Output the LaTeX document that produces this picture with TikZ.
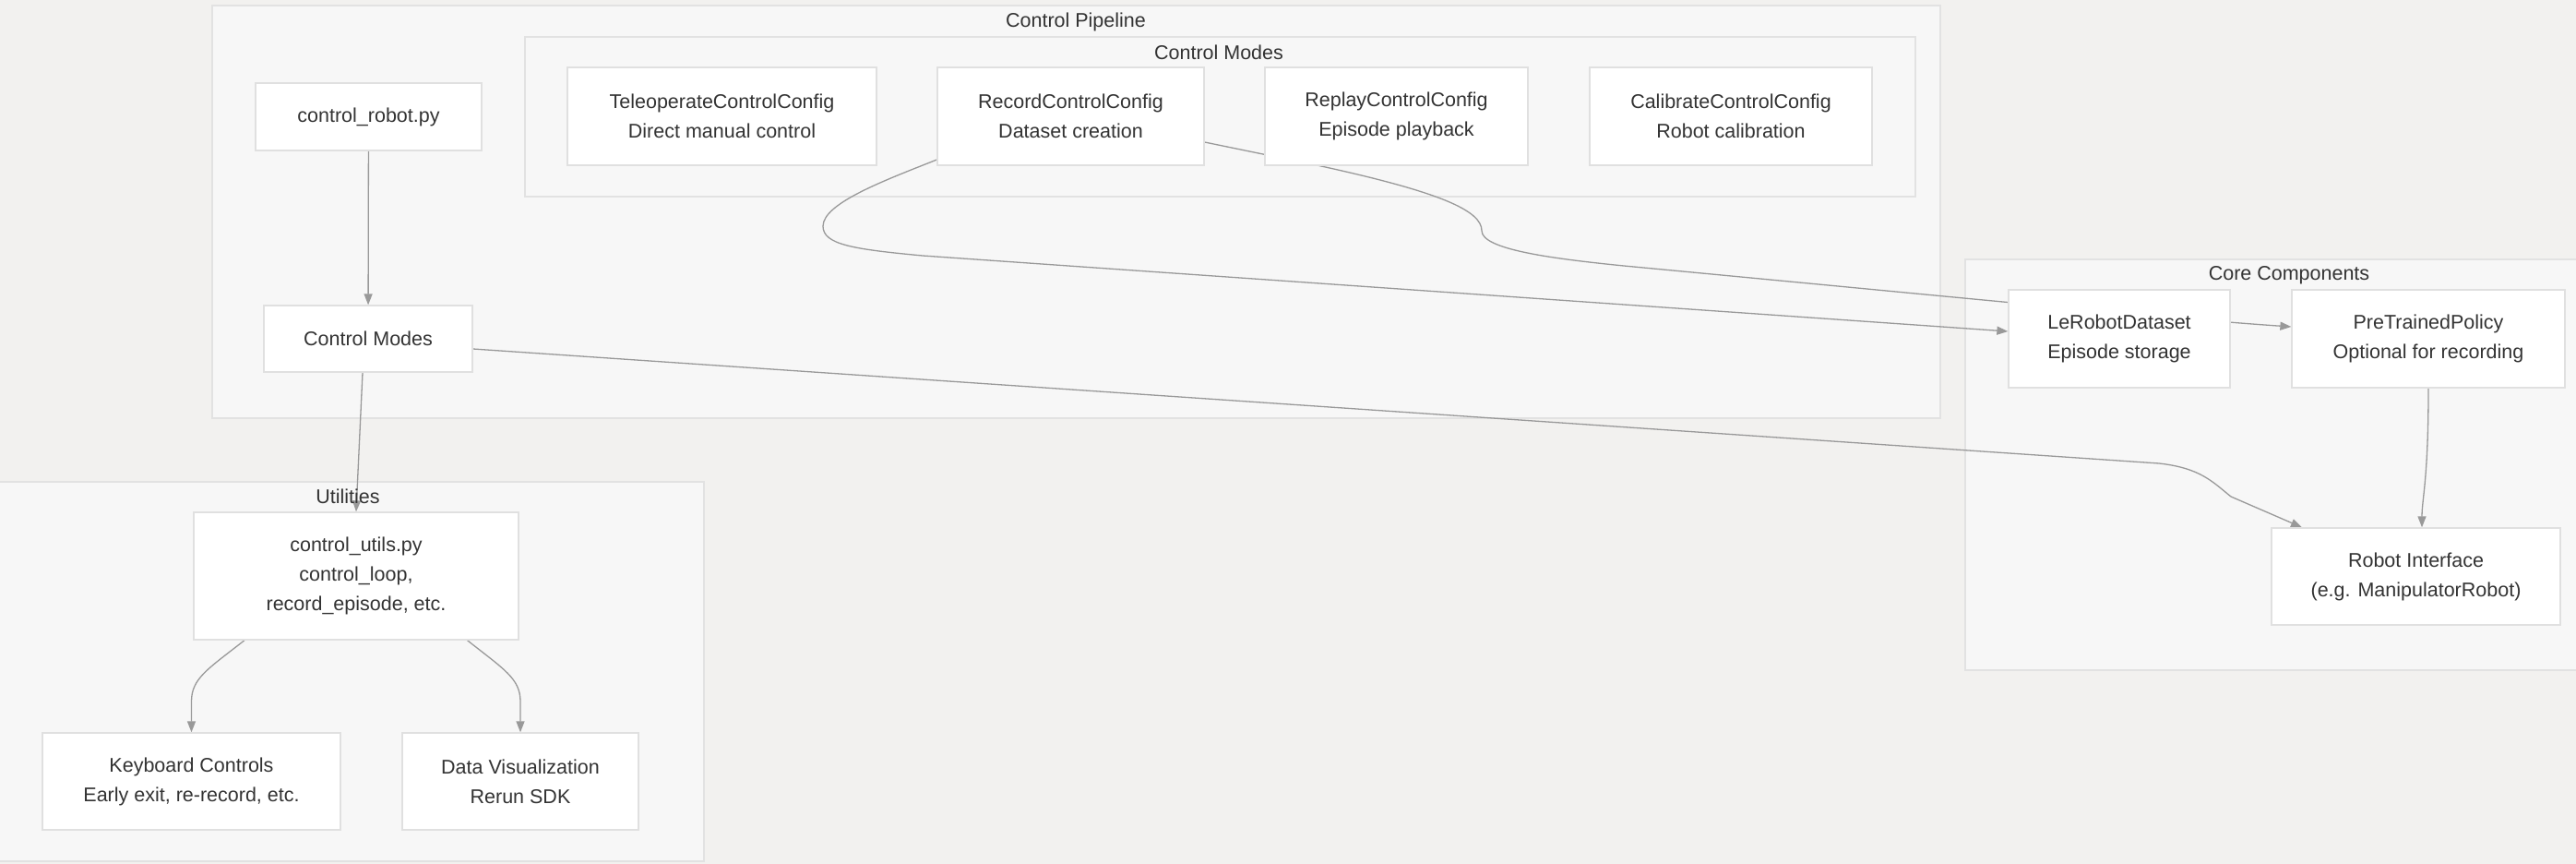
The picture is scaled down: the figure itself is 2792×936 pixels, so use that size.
\documentclass[tikz,border=0pt]{standalone}
\usepackage{fontspec}
\setmainfont{Liberation Sans}
\usetikzlibrary{arrows.meta}
\definecolor{bgc}{HTML}{F2F1EF}
\definecolor{clfill}{HTML}{F7F7F7}
\definecolor{clline}{HTML}{E2E2E2}
\definecolor{nline}{HTML}{E0E0E0}
\definecolor{edgec}{HTML}{999999}
\definecolor{txt}{HTML}{333333}
\pgfdeclarelayer{bg}
\pgfdeclarelayer{edges}
\pgfsetlayers{bg,edges,main}
\tikzset{
  box/.style={draw=nline, line width=1.3pt, fill=white, text=txt, align=center,
    inner sep=0pt, font=\fontsize{21.5}{32}\selectfont},
  cluster/.style={draw=clline, line width=1.3pt, fill=clfill, inner sep=0pt},
  ctitle/.style={text=txt, inner sep=0pt, font=\fontsize{21.5}{32}\selectfont},
  edge/.style={draw=edgec, line width=1.3pt, -{Triangle[length=12pt,width=9pt]}},
}
\begin{document}
\begin{tikzpicture}[x=1pt,y=-1pt]
\useasboundingbox (0,0) rectangle (2792,936);
\begin{pgfonlayer}{bg}
\fill[bgc] (0,0) rectangle (2792,936);
\node[cluster, minimum width=1873pt, minimum height=447pt] (pipe) at (1166.5,229.5) {};
\node[cluster, minimum width=1507pt, minimum height=173pt] (modes) at (1322.5,126.5) {};
\node[cluster, minimum width=764pt, minimum height=411pt] (util) at (381,727.5) {};
\node[cluster, minimum width=670pt, minimum height=445pt] (core) at (2465,503.5) {};
\end{pgfonlayer}
\node[ctitle] (pipeT) at (1166,24) {Control Pipeline};
\node[ctitle] (modesT) at (1321,57) {Control Modes};
\node[ctitle] (utilT) at (377,538) {Utilities};
\node[ctitle] (coreT) at (2481,298) {Core Components};

\node[box, minimum width=245pt, minimum height=73pt] (crp) at (399.5,126.5) {control\_robot.py};
\node[box, minimum width=226pt, minimum height=72pt] (cm) at (399,367) {Control Modes};
\node[box, minimum width=335pt, minimum height=106pt] (tele) at (782.5,126) {TeleoperateControlConfig\\Direct manual control};
\node[box, minimum width=289pt, minimum height=106pt] (rec) at (1160.5,126) {RecordControlConfig\\Dataset creation};
\node[box, minimum width=285pt, minimum height=106pt] (rep) at (1513.5,126) {ReplayControlConfig\\Episode playback};
\node[box, minimum width=306pt, minimum height=106pt] (cal) at (1876,126) {CalibrateControlConfig\\Robot calibration};
\node[box, minimum width=240pt, minimum height=106pt] (lrd) at (2297,367) {LeRobotDataset\\Episode storage};
\node[box, minimum width=296pt, minimum height=106pt] (ptp) at (2632,367) {PreTrainedPolicy\\Optional for recording};
\node[box, minimum width=313pt, minimum height=105pt] (rob) at (2618.5,624.5) {Robot Interface\\(e.g. ManipulatorRobot)};
\node[box, minimum width=352pt, minimum height=138pt] (cu) at (386,624) {control\_utils.py\\control\_loop,\\record\_episode, etc.};
\node[box, minimum width=323pt, minimum height=105pt] (kb) at (207.5,846.5) {Keyboard Controls\\Early exit, re-record, etc.};
\node[box, minimum width=256pt, minimum height=105pt] (dv) at (564,846.5) {Data Visualization\\Rerun SDK};

\begin{pgfonlayer}{edges}
\draw[edge] (crp) -- (cm);
\draw[edge] ([xshift=-6pt]cm.south) -- (cu.north);
\draw[edge] ([yshift=-11pt]cm.east) -- (2340,502) .. controls (2385,507) and (2398,522) .. (2418,538) -- ([xshift=-123.5pt]rob.north);
\draw[edge] ([yshift=-47pt]rec.west) .. controls (960,195) and (892,220) .. (892,245) .. controls (892,265) and (925,270) .. (1000,277) -- ([yshift=8pt]lrd.west);
\draw[edge] ([yshift=-28pt]rec.east) -- (1432,180) .. controls (1560,208) and (1606,228) .. (1606,250) .. controls (1606,270) and (1680,280) .. (1760,288) .. controls (2100,320) and (2350,345) .. ([yshift=13pt]ptp.west);
\draw[edge] (ptp.south) .. controls (2632,520) and (2625,540) .. ([xshift=6.5pt]rob.north);
\draw[edge] ([xshift=-121pt]cu.south) .. controls (225,725) and (207.5,735) .. (207.5,760) -- (kb.north);
\draw[edge] ([xshift=120.5pt]cu.south) .. controls (546,725) and (564,735) .. (564,760) -- (dv.north);
\end{pgfonlayer}
\end{tikzpicture}
\end{document}
